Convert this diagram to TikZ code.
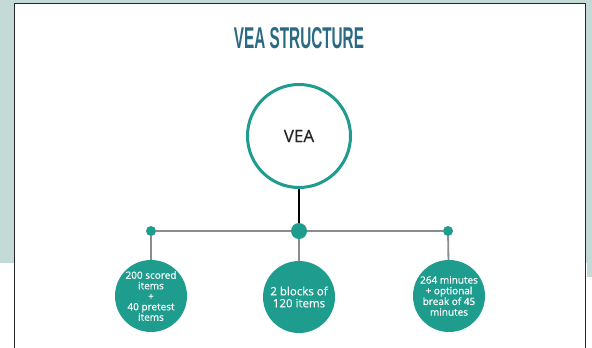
\documentclass[tikz,border=0pt]{standalone}
\usepackage{fontspec}
\setmainfont{Open Sans}
\newfontfamily\titlefont{Liberation Sans}
\newfontfamily\leaffont[FakeBold=0.4]{Open Sans}
\newfontfamily\veafont[FakeBold=0.6]{Open Sans}
\definecolor{bgteal}{HTML}{C3DAD6}
\definecolor{tealc}{HTML}{1E9C8D}
\definecolor{titleblue}{HTML}{2B6A84}
\definecolor{linegray}{HTML}{8C8C8C}
\begin{document}
\begin{tikzpicture}[x=1pt,y=-1pt,
  bigcirc/.style={circle,draw=tealc,line width=3pt,fill=white,minimum size=103pt,inner sep=0pt,
    font=\veafont\fontsize{17}{20}\selectfont,text=black!85},
  hubdot/.style={circle,fill=tealc,minimum size=16pt,inner sep=0pt},
  smalldot/.style={circle,fill=tealc,minimum size=10pt,inner sep=0pt},
  leaf/.style={circle,fill=tealc,minimum size=72pt,inner sep=0pt,align=center,text=white},
  grayline/.style={draw=linegray,line width=1.8pt},
  blackline/.style={draw=black,line width=1.5pt}]
\useasboundingbox (0,0) rectangle (592,348);
\fill[white] (0,0) rectangle (592,348);
\fill[bgteal] (0,0) rectangle (592,263);
\draw[fill=white,line width=1.8pt,draw=black!85] (14.5,3.5) rectangle (585.5,360);
\fill[bgteal] (586.5,0) rectangle (592,277);

\node[text=titleblue] (title) at (299,38) {\resizebox{130pt}{21pt}{\titlefont\bfseries VEA STRUCTURE}};

\node[bigcirc] (vea) at (299,136) {VEA};
\node[hubdot] (hub) at (299,231) {};
\node[smalldot] (ldot) at (151,231) {};
\node[smalldot] (rdot) at (448,231) {};

\node[leaf,font=\leaffont\fontsize{10}{10.5}\selectfont] (lc) at (151,296) {200 scored\\items\\+\\40 pretest\\items};
\node[leaf,font=\leaffont\fontsize{11.5}{12}\selectfont] (mc) at (299,297) {2 blocks of\\120 items};
\node[leaf,font=\leaffont\fontsize{10}{10.7}\selectfont] (rc) at (449,296) {264 minutes\\+ optional\\break of 45\\minutes};

\draw[blackline] (vea) -- (hub);
\draw[grayline] (ldot) -- (hub);
\draw[grayline] (hub) -- (rdot);
\draw[grayline] (ldot) -- (lc);
\draw[grayline] (hub) -- (mc);
\draw[grayline] (rdot) -- (rc);
\end{tikzpicture}
\end{document}
